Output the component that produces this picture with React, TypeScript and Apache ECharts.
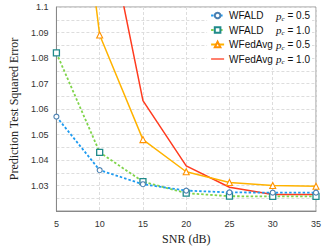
import React, { useEffect, useRef } from "react";
import * as echarts from "echarts";

const snr = [5, 10, 15, 20, 25, 30, 35];
const wfald05 = [1.057, 1.036, 1.0305, 1.028, 1.0273, 1.0272, 1.0272];
const wfald10 = [1.082, 1.043, 1.0315, 1.027, 1.0258, 1.0257, 1.0257];
const wfedavg05 = [1.225, 1.089, 1.048, 1.0354, 1.0312, 1.03, 1.0297];
const wfedavg10 = [1.25, 1.147, 1.0633, 1.0377, 1.0293, 1.0265, 1.0265];
const names = ["WFALD|0.5", "WFALD|1.0", "WFedAvg|0.5", "WFedAvg|1.0"];

const pair = (ys: number[]) => snr.map((x, i) => [x, ys[i]]);

export default function App() {
  const ref = useRef<HTMLDivElement>(null);
  useEffect(() => {
    const chart = echarts.init(ref.current!, undefined, { renderer: "svg" });
    const tick = { fontFamily: "Liberation Sans, Arial, sans-serif", fontSize: 9, color: "#333" };
    chart.setOption({
      animation: false,
      backgroundColor: "#fff",
      grid: { left: 42, right: 11, top: 7, bottom: 37, show: true, borderColor: "#999", borderWidth: 1 },
      legend: {
        right: 15,
        top: 8,
        orient: "vertical",
        itemGap: 2.5,
        itemWidth: 13,
        itemHeight: 7,
        backgroundColor: "#fff",
        padding: [2, 2, 2, 3],
        data: [names[0], names[1], names[2], { name: names[3], icon: "path://M0,0H20V2H0Z" }],
        formatter: (n: string) => {
          const [a, b] = n.split("|");
          return `{a|${a}}{p|p}{s|c}{e| = ${b}}`;
        },
        textStyle: {
          rich: {
            a: { fontFamily: "Liberation Sans, Arial, sans-serif", fontSize: 10, color: "#111", width: 47 },
            p: { fontFamily: "Liberation Serif, Times New Roman, serif", fontStyle: "italic", fontSize: 11, color: "#111" },
            s: { fontFamily: "Liberation Serif, Times New Roman, serif", fontStyle: "italic", fontSize: 7, color: "#111", verticalAlign: "bottom", padding: [6, 0, 0, 0] },
            e: { fontFamily: "Liberation Sans, Arial, sans-serif", fontSize: 10, color: "#111" },
          },
        },
      },
      xAxis: {
        type: "value",
        min: 5,
        max: 35,
        interval: 5,
        name: "SNR (dB)",
        nameLocation: "middle",
        nameGap: 22,
        nameTextStyle: { fontFamily: "Liberation Serif, Times New Roman, serif", fontSize: 12, color: "#222" },
        axisLine: { lineStyle: { color: "#888" } },
        axisTick: { show: false },
        axisLabel: tick,
        splitLine: { show: true, lineStyle: { color: "#ddd", type: [3, 2] } },
      },
      yAxis: {
        type: "value",
        min: 1.02,
        max: 1.1,
        interval: 0.005,
        name: "Prediction Test Squared Error",
        nameLocation: "middle",
        nameGap: 28,
        nameTextStyle: { fontFamily: "Liberation Serif, Times New Roman, serif", fontSize: 12, color: "#222" },
        axisLine: { show: true, lineStyle: { color: "#888" } },
        axisTick: { show: false },
        axisLabel: {
          ...tick,
          formatter: (v: number) => {
            const k = Math.round(v * 1000);
            if (k % 10 !== 0 || k === 1020) return "";
            return String(Number(v.toFixed(2)));
          },
        },
        splitLine: { show: true, lineStyle: { color: "#ddd", type: [3, 2] } },
      },
      series: [
        {
          name: names[0],
          type: "line",
          data: pair(wfald05),
          lineStyle: { color: "#1e9bf0", width: 1.8, type: [2.5, 2] },
          itemStyle: { color: "#fff", borderColor: "#4a7fb0", borderWidth: 1.1 },
          symbol: "circle",
          symbolSize: 5,
          z: 4,
        },
        {
          name: names[1],
          type: "line",
          data: pair(wfald10),
          lineStyle: { color: "#7fd44a", width: 1.8, type: [2.5, 2] },
          itemStyle: { color: "#fff", borderColor: "#1f8a8a", borderWidth: 1.3 },
          symbol: "rect",
          symbolSize: 6,
          z: 3,
        },
        {
          name: names[2],
          type: "line",
          data: pair(wfedavg05),
          lineStyle: { color: "#ffb300", width: 1.5 },
          itemStyle: { color: "#fff", borderColor: "#ff9200", borderWidth: 1.1 },
          symbol: "triangle",
          symbolSize: 6,
          z: 2,
        },
        {
          name: names[3],
          type: "line",
          data: pair(wfedavg10),
          lineStyle: { color: "#ff3b1f", width: 1.5 },
          itemStyle: { color: "#ff3b1f" },
          symbol: "none",
          z: 1,
        },
      ],
    });
    return () => chart.dispose();
  }, []);
  return <div ref={ref} style={{ width: 327, height: 250, position: "absolute", left: 0, top: 0 }} />;
}
